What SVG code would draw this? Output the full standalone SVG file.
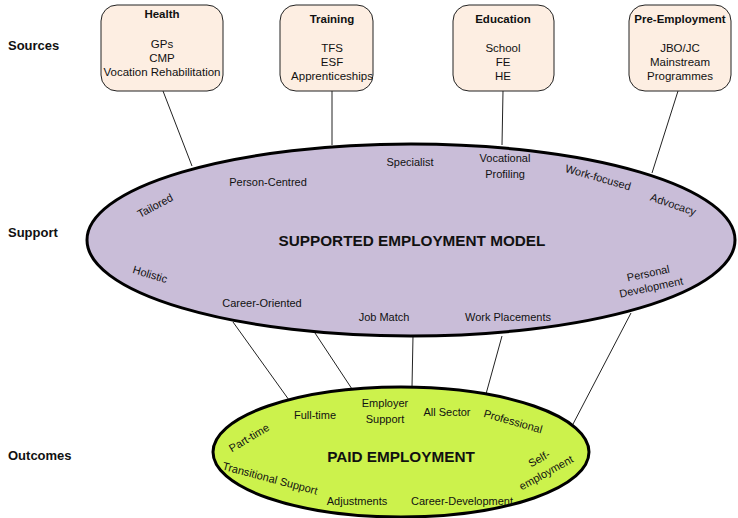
<svg xmlns="http://www.w3.org/2000/svg" width="738" height="518" viewBox="0 0 738 518">
  <style>
    text { font-family: "Liberation Sans", Arial, sans-serif; fill: #111; }
    .side { font-size: 13px; font-weight: bold; }
    .box { fill: #fdeee2; stroke: #222; stroke-width: 1; }
    .title { font-size: 11.5px; font-weight: bold; text-anchor: middle; }
    .item { font-size: 11.5px; text-anchor: middle; }
    .lbl { font-size: 11px; text-anchor: middle; }
    .big { font-size: 15.3px; font-weight: bold; text-anchor: middle; }
    .conn line { stroke: #222; stroke-width: 1; }
  </style>

  <!-- row captions -->
  <text class="side" x="8" y="50">Sources</text>
  <text class="side" x="8" y="237">Support</text>
  <text class="side" x="8" y="460">Outcomes</text>

  <!-- connectors -->
  <g id="connectors" class="conn">
    <line x1="163" y1="91" x2="192" y2="166"/>
    <line x1="332" y1="91" x2="332" y2="145"/>
    <line x1="503" y1="91" x2="502" y2="145"/>
    <line x1="678" y1="91" x2="652" y2="173"/>
    <line x1="233" y1="322" x2="289" y2="400"/>
    <line x1="315" y1="333" x2="352" y2="389"/>
    <line x1="413" y1="336" x2="412" y2="387"/>
    <line x1="502" y1="336" x2="486" y2="394"/>
    <line x1="631" y1="313" x2="572" y2="426"/>
  </g>

  <!-- source boxes -->
  <g id="health">
    <rect class="box" x="101" y="5" width="122" height="86" rx="16"/>
    <text class="title" x="162" y="18">Health</text>
    <text class="item" x="162" y="48">GPs</text>
    <text class="item" x="162" y="62">CMP</text>
    <text class="item" x="162" y="76">Vocation Rehabilitation</text>
  </g>
  <g id="training">
    <rect class="box" x="280" y="5" width="93" height="86" rx="16"/>
    <text class="title" x="332" y="23">Training</text>
    <text class="item" x="332" y="52">TFS</text>
    <text class="item" x="332" y="66">ESF</text>
    <text class="item" x="332" y="80">Apprenticeships</text>
  </g>
  <g id="education">
    <rect class="box" x="453" y="5" width="101" height="86" rx="16"/>
    <text class="title" x="503" y="23">Education</text>
    <text class="item" x="503" y="52">School</text>
    <text class="item" x="503" y="66">FE</text>
    <text class="item" x="503" y="80">HE</text>
  </g>
  <g id="pre-employment">
    <rect class="box" x="629" y="5" width="102" height="86" rx="16"/>
    <text class="title" x="680" y="23">Pre-Employment</text>
    <text class="item" x="680" y="52">JBO/JC</text>
    <text class="item" x="680" y="66">Mainstream</text>
    <text class="item" x="680" y="80">Programmes</text>
  </g>

  <!-- support model -->
  <g id="supported-employment-model">
    <ellipse cx="411" cy="240" rx="324" ry="96" fill="#c9bdd8" stroke="#000" stroke-width="3"/>
    <text class="big" x="412" y="246">SUPPORTED EMPLOYMENT MODEL</text>
    <text class="lbl" x="268" y="186">Person-Centred</text>
    <text class="lbl" x="410" y="166">Specialist</text>
    <text class="lbl" x="505" y="162">Vocational</text>
    <text class="lbl" x="505" y="178">Profiling</text>
    <text class="lbl" transform="translate(597,181) rotate(16)">Work-focused</text>
    <text class="lbl" transform="translate(672,208) rotate(19)">Advocacy</text>
    <text class="lbl" transform="translate(157,209) rotate(-28)">Tailored</text>
    <text class="lbl" transform="translate(149,278) rotate(17)">Holistic</text>
    <text class="lbl" x="262" y="307">Career-Oriented</text>
    <text class="lbl" x="384" y="321">Job Match</text>
    <text class="lbl" x="508" y="321">Work Placements</text>
    <text class="lbl" transform="translate(649,277) rotate(-12)">Personal</text>
    <text class="lbl" transform="translate(652,291) rotate(-12)">Development</text>
  </g>

  <!-- outcome -->
  <g id="paid-employment">
    <ellipse cx="401" cy="452" rx="188" ry="65" fill="#ccf24c" stroke="#000" stroke-width="3"/>
    <text class="big" x="401" y="462">PAID EMPLOYMENT</text>
    <text class="lbl" transform="translate(251,441) rotate(-31)">Part-time</text>
    <text class="lbl" x="315" y="419">Full-time</text>
    <text class="lbl" x="385" y="407">Employer</text>
    <text class="lbl" x="385" y="423">Support</text>
    <text class="lbl" x="447" y="416">All Sector</text>
    <text class="lbl" transform="translate(512,425) rotate(16)">Professional</text>
    <text class="lbl" transform="translate(541,462) rotate(-29)">Self-</text>
    <text class="lbl" transform="translate(548,476) rotate(-29)">employment</text>
    <text class="lbl" transform="translate(269,482) rotate(15)">Transitional Support</text>
    <text class="lbl" x="357" y="505">Adjustments</text>
    <text class="lbl" x="462" y="505">Career-Development</text>
  </g>
</svg>
